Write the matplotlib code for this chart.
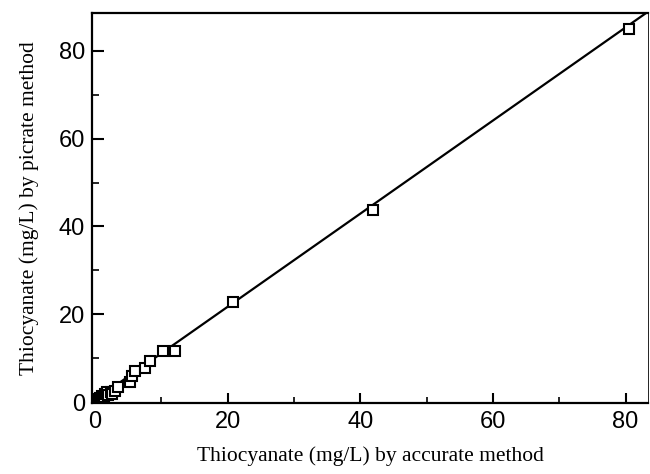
import matplotlib
matplotlib.use("Agg")
import matplotlib.pyplot as plt
import numpy as np

# Data
accurate = [0.1, 0.2, 0.3, 0.4, 0.5, 0.6, 0.7, 0.8, 0.9, 1.1, 1.3, 1.4, 1.5, 1.7, 1.8, 2.0, 2.4, 2.6, 3.0,
            3.5, 5.3, 5.6, 6.0, 7.5, 8.3, 10.3, 12.1, 20.8, 42.0, 80.5]
picrate  = [0.1, 0.3, 0.0, 0.7, 0.3, 0.4, 0.9, 0.5, 1.0, 1.5, 0.9, 1.2, 1.8, 1.9, 2.2, 1.6, 2.3, 1.9, 2.6,
            3.4, 4.5, 5.9, 7.0, 7.7, 9.3, 11.6, 11.6, 22.8, 43.8, 85.0]
fit_slope = 1.06
fit_intercept = 0.5

x_major = [0, 20, 40, 60, 80]
y_major = [0, 20, 40, 60, 80]

fig = plt.figure(figsize=(6.5, 4.74), dpi=100)
ax = fig.add_axes([0.1415, 0.1498, 0.997 - 0.1415, 0.9726 - 0.1498])

xlim = (-0.45, 83.4)
ylim = (-0.2, 88.6)
xx = np.array(xlim)
ax.plot(xx, fit_slope * xx + fit_intercept, color='black', lw=1.6, zorder=2)
ax.plot(accurate, picrate, linestyle='none', marker='s', markersize=7.5,
        markerfacecolor='white', markeredgecolor='black', markeredgewidth=1.5, zorder=3)

ax.set_xlim(*xlim)
ax.set_ylim(*ylim)
ax.set_xticks(x_major)
ax.set_yticks(y_major)
ax.set_xticks([10, 30, 50, 70], minor=True)
ax.set_yticks([10, 30, 50, 70], minor=True)

tick_font = dict(family=['Liberation Sans', 'DejaVu Sans'], size=17)
ax.set_xticklabels([str(v) for v in x_major], **tick_font)
ax.set_yticklabels([str(v) for v in y_major], **tick_font)

ax.tick_params(axis='x', which='major', direction='in', length=7, width=1.5, pad=6)
ax.tick_params(axis='x', which='minor', direction='in', length=4, width=1.2)
ax.tick_params(axis='y', which='major', direction='in', length=8.5, width=1.5, pad=5)
ax.tick_params(axis='y', which='minor', direction='in', length=5, width=1.2)

for s in ['left', 'bottom', 'top']:
    ax.spines[s].set_linewidth(1.6)
ax.spines['right'].set_linewidth(0.6)

label_font = dict(family=['Liberation Serif', 'DejaVu Serif'], size=15.5)
ax.set_xlabel('Thiocyanate (mg/L) by accurate method', labelpad=9, **label_font)
ax.set_ylabel('Thiocyanate (mg/L) by picrate method', labelpad=14, **label_font)

fig.savefig('out.png', dpi=100)
